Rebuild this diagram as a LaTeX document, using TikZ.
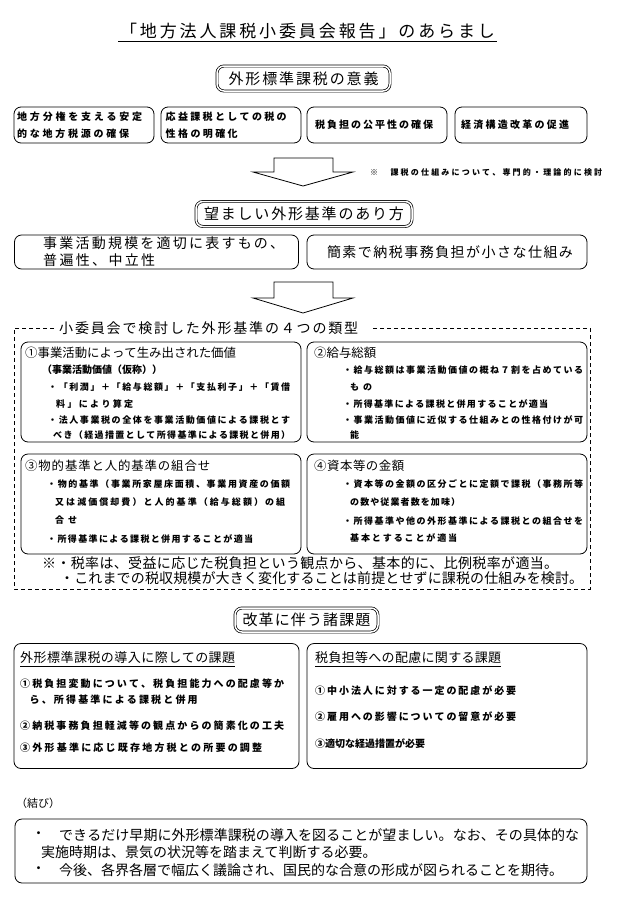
\documentclass[tikz,border=0pt]{standalone}
\usepackage{fontspec}
\setmainfont{Noto Sans CJK JP}
\newcommand{\jr}[1]{\fontsize{#1}{#1}\selectfont}
\newcommand{\jb}[1]{\fontsize{#1}{#1}\selectfont\bfseries}
\newcommand{\jw}[2]{\hbox to #1pt{\jwfirst#2\relax}}
\def\jwfirst#1{#1\jwrest}
\def\jwrest#1{\ifx#1\relax\else\hfil#1\expandafter\jwrest\fi}
\tikzset{
  box/.style={draw, line width=0.8pt, rounded corners=7pt, inner sep=0},
  dbox/.style={draw, double, double distance=1.5pt, line width=0.7pt, rounded corners=7pt, inner sep=0},
  t/.style={inner sep=0, anchor=west},
  c/.style={inner sep=0},
  blockarrow/.style={draw, line width=0.8pt, fill=white, line join=miter},
  dashframe/.style={line width=0.7pt, dash pattern=on 4pt off 3pt},
  uline/.style={line width=0.8pt}
}
\begin{document}
\begin{tikzpicture}[x=1pt,y=-1pt]
\useasboundingbox[fill=white] (0,0) rectangle (617,908);

% title
\node[c] (title) at (307.5,31) {\jr{17}\jw{375}{「地方法人課税小委員会報告」のあらまし}};
\coordinate (tu1) at (118,41);
\coordinate (tu2) at (497,41);
\draw[uline] (tu1) -- (tu2);

% significance
\node[dbox, minimum width=173pt, minimum height=25pt] (boxA) at (303.5,78.5) {};
\node[c] (boxAt) at (boxA.center) {\jr{15}\jw{150}{外形標準課税の意義}};

\node[box, minimum width=140pt, minimum height=36pt] (s1) at (84,125) {};
\node[box, minimum width=140pt, minimum height=36pt] (s2) at (231,125) {};
\node[box, minimum width=140pt, minimum height=36pt] (s3) at (377,125) {};
\node[box, minimum width=132pt, minimum height=36pt] (s4) at (521,125) {};
\node[t] (s1a) at (17,116.5) {\jb{10}\jw{125}{地方分権を支える安定}};
\node[t] (s1b) at (17,134) {\jb{10}\jw{112}{的な地方税源の確保}};
\node[t] (s2a) at (165.5,116.5) {\jb{10}\jw{121}{応益課税としての税の}};
\node[t] (s2b) at (165.5,134) {\jb{10}\jw{72}{性格の明確化}};
\node[t] (s3a) at (315,125) {\jb{10}\jw{118}{税負担の公平性の確保}};
\node[t] (s4a) at (461,125) {\jb{10}\jw{108}{経済構造改革の促進}};

% arrow 1
\draw[blockarrow] (274,158) -- (333,158) -- (333,172) -- (353,172) -- (303,186) -- (253,172) -- (274,172) -- cycle;
\node[t] (note1) at (370,172) {\jb{8}\jw{232}{※　課税の仕組みについて、専門的・理論的に検討}};

% desirable
\node[dbox, minimum width=216pt, minimum height=25pt] (boxB) at (304,214) {};
\node[c] (boxBt) at (boxB.center) {\jr{15}\jw{200}{望ましい外形基準のあり方}};
\node[box, minimum width=284pt, minimum height=34pt] (d1) at (156.5,252) {};
\node[box, minimum width=280pt, minimum height=34pt] (d2) at (447,252) {};
\node[t] (d1a) at (43,243.5) {\jr{14}\jw{241}{事業活動規模を適切に表すもの、}};
\node[t] (d1b) at (43,260.5) {\jr{14}\jw{112}{普遍性、中立性}};
\node[c] (d2a) at (450,252) {\jr{14}\jw{246}{簡素で納税事務負担が小さな仕組み}};

% arrow 2
\draw[blockarrow] (274,282) -- (333,282) -- (333,298) -- (353,298) -- (303,313) -- (253,298) -- (274,298) -- cycle;

% dashed frame
\node[t] (ftitle) at (59,328) {\jr{14}\jw{299}{小委員会で検討した外形基準の４つの類型}};
\draw[dashframe] ([xshift=-5pt]ftitle.west) -- (14,328) -- (14,589) -- (590,589) -- (590,328) -- ([xshift=14pt]ftitle.east);

\node[box, minimum width=280pt, minimum height=100pt] (k1) at (161,392) {};
\node[box, minimum width=280pt, minimum height=100pt] (k2) at (447,392) {};
\node[box, minimum width=280pt, minimum height=100pt] (k3) at (161,504) {};
\node[box, minimum width=280pt, minimum height=100pt] (k4) at (447,504) {};

\node[t] (k1h) at (25,353) {\jr{12.4}\jw{210}{①事業活動によって生み出された価値}};
\node[t] (k1s) at (42,370) {\jb{10}\jw{112}{（事業活動価値（仮称））}};
\node[t] (k1a) at (48,387) {\jb{9}\jw{242}{・「利潤」＋「給与総額」＋「支払利子」＋「賃借}};
\node[t] (k1b) at (56,404) {\jb{9}\jw{77}{料」により算定}};
\node[t] (k1c) at (48,420) {\jb{9}\jw{242}{・法人事業税の全体を事業活動価値による課税とす}};
\node[t] (k1d) at (53,435) {\jb{9}\jw{237}{べき（経過措置として所得基準による課税と併用）}};

\node[t] (k2h) at (314,353) {\jr{12.4}\jw{62}{②給与総額}};
\node[t] (k2a) at (343,370) {\jb{9}\jw{240}{・給与総額は事業活動価値の概ね７割を占めている}};
\node[t] (k2b) at (350,387) {\jb{9}\jw{22}{もの}};
\node[t] (k2c) at (343,404) {\jb{9}\jw{205}{・所得基準による課税と併用することが適当}};
\node[t] (k2d) at (343,420) {\jb{9}\jw{240}{・事業活動価値に近似する仕組みとの性格付けが可}};
\node[t] (k2e) at (350,435) {\jb{9}能};

\node[t] (k3h) at (25,466) {\jr{12.4}\jw{185}{③物的基準と人的基準の組合せ}};
\node[t] (k3a) at (47,484) {\jb{9}\jw{243}{・物的基準（事業所家屋床面積、事業用資産の価額}};
\node[t] (k3b) at (55,502) {\jb{9}\jw{230}{又は減価償却費）と人的基準（給与総額）の組}};
\node[t] (k3c) at (55,520) {\jb{9}\jw{22}{合せ}};
\node[t] (k3d) at (47,539) {\jb{9}\jw{206}{・所得基準による課税と併用することが適当}};

\node[t] (k4h) at (314,466) {\jr{12.4}\jw{90}{④資本等の金額}};
\node[t] (k4a) at (343,484) {\jb{9}\jw{240}{・資本等の金額の区分ごとに定額で課税（事務所等}};
\node[t] (k4b) at (350,502) {\jb{9}\jw{110}{の数や従業者数を加味）}};
\node[t] (k4c) at (343,521) {\jb{9}\jw{240}{・所得基準や他の外形基準による課税との組合せを}};
\node[t] (k4d) at (350,538) {\jb{9}\jw{107}{基本とすることが適当}};

\node[t] (n1) at (42,563) {\jr{14}\jw{516}{※・税率は、受益に応じた税負担という観点から、基本的に、比例税率が適当。}};
\node[t] (n2) at (60,578) {\jr{14}\jw{523}{・これまでの税収規模が大きく変化することは前提とせずに課税の仕組みを検討。}};

% issues
\node[dbox, minimum width=143pt, minimum height=24pt] (boxC) at (306.5,620) {};
\node[c] (boxCt) at (boxC.center) {\jr{15}\jw{128}{改革に伴う諸課題}};
\node[box, minimum width=285pt, minimum height=125pt] (p1) at (156.5,706) {};
\node[box, minimum width=280pt, minimum height=125pt] (p2) at (447,706) {};

\node[t] (p1h) at (20,658) {\jr{13}\jw{215}{外形標準課税の導入に際しての課題}};
\draw[uline] (p1h.west |- 0,666) -- (p1h.east |- 0,666);
\node[t] (p1a) at (20,684) {\jb{10}\jw{264}{①税負担変動について、税負担能力への配慮等か}};
\node[t] (p1b) at (29.5,700) {\jb{10}\jw{168}{ら、所得基準による課税と併用}};
\node[t] (p1c) at (20,726) {\jb{10}\jw{264}{②納税事務負担軽減等の観点からの簡素化の工夫}};
\node[t] (p1d) at (20,748) {\jb{10}\jw{242}{③外形基準に応じ既存地方税との所要の調整}};

\node[t] (p2h) at (315,658) {\jr{13}\jw{186}{税負担等への配慮に関する課題}};
\draw[uline] (p2h.west |- 0,666) -- (p2h.east |- 0,666);
\node[t] (p2a) at (315,691) {\jb{10}\jw{201}{①中小法人に対する一定の配慮が必要}};
\node[t] (p2b) at (315,717) {\jb{10}\jw{201}{②雇用への影響についての留意が必要}};
\node[t] (p2c) at (315,744) {\jb{10}\jw{103}{③適切な経過措置が必要}};

% conclusion
\node[t] (mh) at (16,803) {\jr{11}（結び）};
\node[box, minimum width=572pt, minimum height=64pt] (m) at (301,851) {};
\node[t] (m1d) at (31.5,835) {\jr{14}・};
\node[t] (m1) at (59,835) {\jr{14}\jw{520}{できるだけ早期に外形標準課税の導入を図ることが望ましい。なお、その具体的な}};
\node[t] (m2) at (41,852) {\jr{14}実施時期は、景気の状況等を踏まえて判断する必要。};
\node[t] (m3d) at (31.5,870) {\jr{14}・};
\node[t] (m3) at (59,870) {\jr{14}\jw{494}{今後、各界各層で幅広く議論され、国民的な合意の形成が図られることを期待。}};
\end{tikzpicture}
\end{document}
